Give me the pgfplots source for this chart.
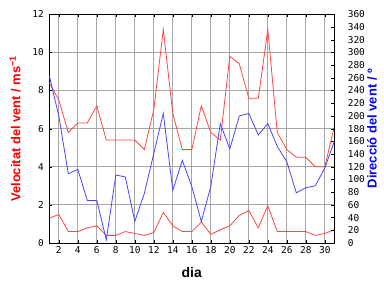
\documentclass[border=0pt]{standalone}
\usepackage{fontspec}
\setmainfont{Liberation Sans}
\newfontfamily\tickfont{DejaVu Sans Mono}
\usepackage{pgfplots}
\pgfplotsset{compat=1.18}
\definecolor{lred}{RGB}{255,70,70}
\definecolor{lblue}{RGB}{70,70,255}
\begin{document}
\begin{tikzpicture}[x=1bp,y=1bp]
\useasboundingbox (0,0) rectangle (384,288);
\begin{axis}[
  at={(49.3bp,45bp)}, anchor=south west,
  scale only axis, width=285bp, height=228.7bp,
  xmin=1, xmax=31, ymin=0, ymax=12,
  xtick={2,4,...,30}, ytick={0,2,...,12},
  grid=major, grid style={gray!70, line width=0.8pt},
  tick style={black}, tick align=inside,
  major tick length=3bp,
  axis line style={black, line width=0.8pt},
  ticklabel style={font=\tickfont\fontsize{9.5}{10}\selectfont},
  yticklabel style={xshift=-2bp},
  /pgf/number format/assume math mode=true,
  xlabel={\textbf{dia}},
  xlabel style={font=\fontsize{14}{14}\selectfont, at={(axis description cs:0.5,-0.13)}, anchor=center},
  ylabel={\textbf{Velocitat del vent / ms\textsuperscript{−1}}},
  ylabel style={font=\fontsize{13}{13}\selectfont, text=red, at={(axis description cs:-0.12,0.5)}, anchor=center, rotate=0},
]
\addplot[lred, line width=0.8pt] coordinates {
(1,8.4)(2,7.5)(3,5.8)(4,6.3)(5,6.3)(6,7.2)(7,5.4)(8,5.4)(9,5.4)(10,5.4)
(11,4.9)(12,7.0)(13,11.2)(14,6.8)(15,4.9)(16,4.9)(17,7.2)(18,5.8)(19,5.4)(20,9.8)
(21,9.4)(22,7.6)(23,7.6)(24,11.2)(25,5.8)(26,4.9)(27,4.5)(28,4.5)(29,4.0)(30,4.0)(31,6.1)};
\addplot[lred, line width=0.8pt] coordinates {
(1,1.3)(2,1.5)(3,0.6)(4,0.6)(5,0.8)(6,0.9)(7,0.4)(8,0.4)(9,0.6)(10,0.5)
(11,0.4)(12,0.55)(13,1.6)(14,0.9)(15,0.6)(16,0.6)(17,1.1)(18,0.45)(19,0.7)(20,0.9)
(21,1.45)(22,1.7)(23,0.8)(24,1.95)(25,0.6)(26,0.6)(27,0.6)(28,0.6)(29,0.4)(30,0.5)(31,0.7)};
\end{axis}
\begin{axis}[
  at={(49.3bp,45bp)}, anchor=south west,
  scale only axis, width=285bp, height=228.7bp,
  xmin=1, xmax=31, ymin=0, ymax=360,
  axis x line=none, axis y line*=right,
  ytick={0,20,...,360},
  tick style={black}, tick align=inside, major tick length=3bp,
  axis line style={black, line width=0.8pt},
  ticklabel style={font=\tickfont\fontsize{9.5}{10}\selectfont},
  yticklabel style={xshift=10bp},
  /pgf/number format/assume math mode=true,
  ylabel={\textbf{Direcció del vent / º}},
  ylabel style={font=\fontsize{13}{13}\selectfont, text=blue, at={(axis description cs:1.132,0.5)}, anchor=center, rotate=0},
]
\addplot[lblue, line width=0.8pt] coordinates {
(1,263)(2,200)(3,109)(4,116)(5,67)(6,67)(7,5)(8,107)(9,104)(10,34)
(11,78)(12,141)(13,204)(14,83)(15,130)(16,89)(17,34)(18,89)(19,188)(20,148)
(21,200)(22,204)(23,170)(24,188)(25,152)(26,128)(27,79)(28,87)(29,90)(30,118)(31,160)};
\end{axis}
\end{tikzpicture}
\end{document}
